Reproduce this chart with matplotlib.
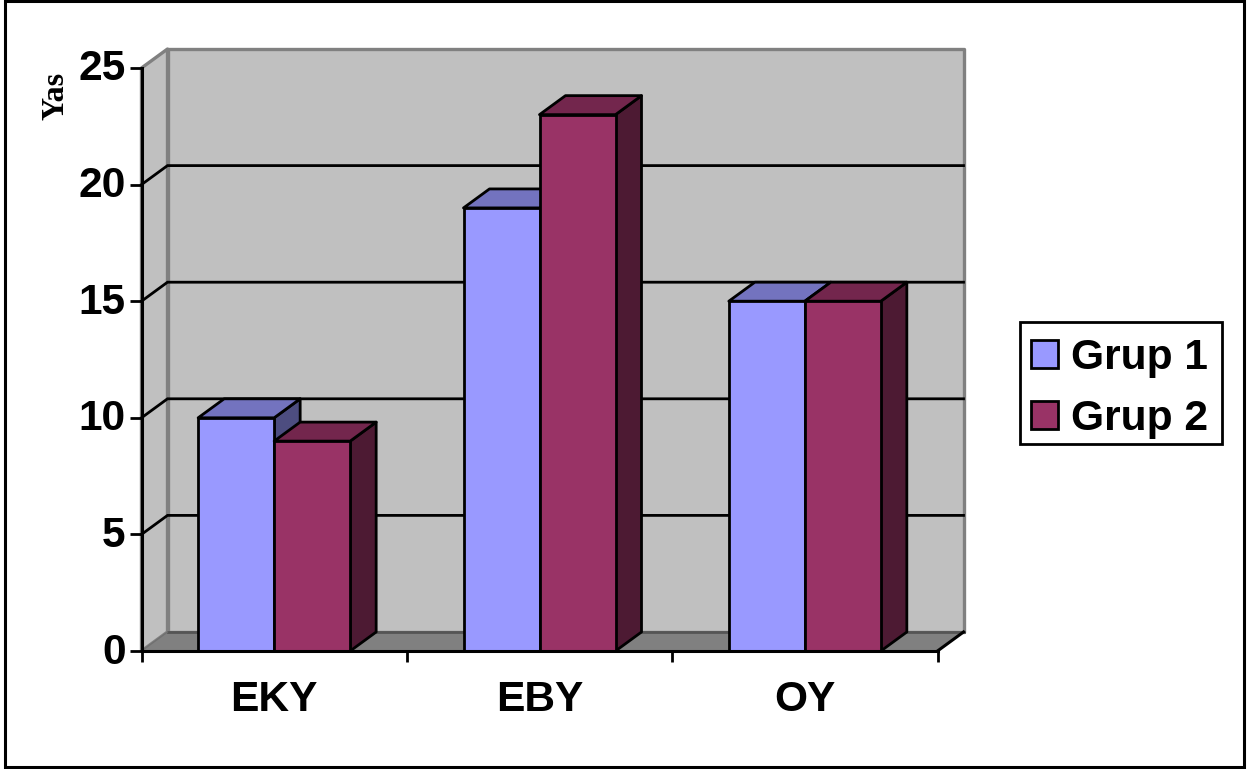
import matplotlib
matplotlib.use("Agg")
import matplotlib.pyplot as plt
from matplotlib.patches import Polygon, Rectangle
from matplotlib.transforms import ScaledTranslation

categories = ["EKY", "EBY", "OY"]
series_names = ["Grup 1", "Grup 2"]
grup1 = [10, 19, 15]
grup2 = [9, 23, 15]
y_ticks = [0, 5, 10, 15, 20, 25]
y_title = "Yas"

FRONT = ["#9999FF", "#993366"]
TOP = ["#7373BF", "#73264D"]
SIDE = ["#4D4D80", "#4D1A33"]
WALL = "#C0C0C0"
FLOOR = "#808080"
W, H = 1257, 769
FONT = ["Liberation Sans", "DejaVu Sans"]
LW = 2.0
FS = 30.6

plt.rcParams["font.family"] = FONT
plt.rcParams["font.weight"] = "bold"
fig = plt.figure(figsize=(W / 100, H / 100), dpi=100, facecolor="white")
ax = fig.add_axes([141.5 / W, (H - 651) / H, 796 / W, 583 / H])
ax.set_xlim(0, 3)
ax.set_ylim(0, 25)
ax.patch.set_visible(False)

DX = 26 / (796 / 3)      # depth in category units
DY = 19 / (583 / 25)     # depth in value units
BAR = 76 / (796 / 3)
n = len(categories)
top = y_ticks[-1]


def poly(pts, fc, ec="black", lw=LW, z=2.0):
    ax.add_patch(Polygon(pts, closed=True, facecolor=fc, edgecolor=ec, linewidth=lw,
                         joinstyle="round", clip_on=False, zorder=z))


# walls and floor
poly([(DX, DY), (n + DX, DY), (n + DX, top + DY), (DX, top + DY)], WALL, FLOOR, 2.4, 1.0)
poly([(0, 0), (DX, DY), (DX, top + DY), (0, top)], WALL, FLOOR, 2.4, 1.0)
poly([(0, 0), (n, 0), (n + DX, DY), (DX, DY)], FLOOR, "none", 0, 1.1)
ax.plot([DX, n + DX], [DY, DY], color="#555555", lw=LW, zorder=1.2, clip_on=False)
ax.plot([0, DX], [0, DY], color="#707070", lw=1.0, zorder=1.2, clip_on=False)
ax.plot([n, n + DX], [0, DY], color="black", lw=LW + 0.2, zorder=1.2, clip_on=False)
for v in y_ticks[1:-1]:
    ax.plot([0, DX, n + DX], [v, v + DY, v + DY], color="black", lw=LW,
            zorder=1.3, clip_on=False, solid_joinstyle="miter")

# bars
handles = []
z = 3.0
for i in range(n):
    for s, values in enumerate((grup1, grup2)):
        v = values[i]
        x0 = i + 0.5 - BAR + s * BAR
        x1 = x0 + BAR
        poly([(x1, 0), (x1 + DX, DY), (x1 + DX, v + DY), (x1, v)], SIDE[s], z=z)
        poly([(x0, v), (x1, v), (x1 + DX, v + DY), (x0 + DX, v + DY)], TOP[s], z=z)
        b = ax.bar(x0, v, width=BAR, align="edge", color=FRONT[s], edgecolor="black",
                   linewidth=LW, zorder=z + 0.1, clip_on=False)
        if i == 0:
            handles.append(b[0])
        z += 0.5

# axes
for name in ("top", "right"):
    ax.spines[name].set_visible(False)
for name in ("left", "bottom"):
    ax.spines[name].set_linewidth(LW + 0.2)
    ax.spines[name].set_zorder(20)
ax.set_yticks(y_ticks)
ax.set_yticklabels([str(v) for v in y_ticks], fontsize=FS, fontweight="bold")
ax.set_xticks(range(n + 1))
ax.set_xticklabels([])
ax.set_xticks([i + 0.5 for i in range(n)], labels=categories, minor=True,
              fontsize=FS, fontweight="bold")
ax.tick_params(axis="y", length=8.5, width=LW, pad=3)
ax.tick_params(axis="x", which="major", length=8, width=LW)
ax.tick_params(axis="x", which="minor", length=0, pad=21)
shift_up = ScaledTranslation(0, 3 / 100, fig.dpi_scale_trans)
for tick in ax.yaxis.get_major_ticks():
    tick.label1.set_transform(tick.label1.get_transform() + shift_up)

fig.text(56.5 / W, 1 - 96 / H, y_title, rotation=90, ha="center", va="center",
         family=["Liberation Serif", "DejaVu Serif"], fontweight="bold", fontsize=23)

# legend: entries sit low in their box, so the box is drawn separately
leg = ax.legend(handles, series_names, loc="center left",
                bbox_to_anchor=(1020 / W, 1 - 388.5 / H), bbox_transform=fig.transFigure,
                fontsize=FS, frameon=False, borderaxespad=0, borderpad=0.25, labelspacing=0.5,
                handlelength=0.64, handleheight=0.64, handletextpad=0.3)
for t in leg.get_texts():
    t.set_fontweight("bold")
fig.add_artist(Rectangle((1020 / W, 1 - 444 / H), 202 / W, 122 / H, transform=fig.transFigure,
                         facecolor="none", edgecolor="black", linewidth=LW))

# chart frame
fig.add_artist(Rectangle((5 / W, 1 - 767 / H), 1238.5 / W, 766.5 / H, transform=fig.transFigure,
                         facecolor="none", edgecolor="black", linewidth=2.2))

fig.savefig("out.png", dpi=100)
